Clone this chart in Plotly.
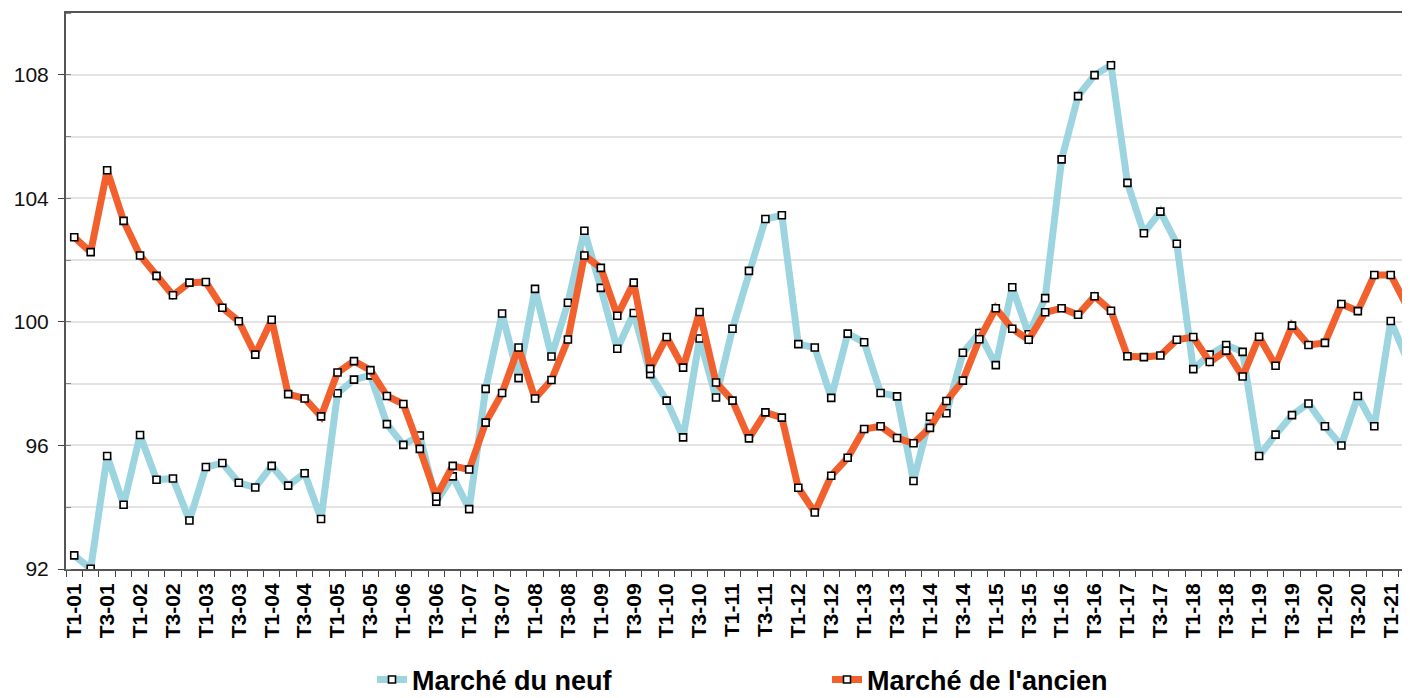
import plotly.graph_objects as go

# Quarterly periods T1-01 ... T2-21
quarters = [f"T{q}-{y:02d}" for y in range(1, 22) for q in range(1, 5)][:82]

tick_labels = ["T1-01", "T3-01", "T1-02", "T3-02", "T1-03", "T3-03", "T1-04", "T3-04",
               "T1-05", "T3-05", "T1-06", "T3-06", "T1-07", "T3-07", "T1-08", "T3-08",
               "T1-09", "T3-09", "T1-10", "T3-10", "T1-11", "T3-11", "T1-12", "T3-12",
               "T1-13", "T3-13", "T1-14", "T3-14", "T1-15", "T3-15", "T1-16", "T3-16",
               "T1-17", "T3-17", "T1-18", "T3-18", "T1-19", "T3-19", "T1-20", "T3-20",
               "T1-21"]

marche_neuf = [92.44, 92.01, 95.66, 94.08, 96.34, 94.89, 94.93, 93.57, 95.30, 95.43,
               94.79, 94.64, 95.34, 94.70, 95.10, 93.62, 97.69, 98.13, 98.27, 96.69,
               96.02, 96.32, 94.18, 95.00, 93.94, 97.83, 100.27, 98.18, 101.07, 98.88,
               100.62, 102.95, 101.10, 99.13, 100.29, 98.31, 97.45, 96.26, 99.46, 97.55,
               99.78, 101.65, 103.33, 103.45, 99.28, 99.17, 97.54, 99.62, 99.34, 97.70,
               97.59, 94.85, 96.93, 97.04, 99.00, 99.64, 98.60, 101.12, 99.60, 100.77,
               105.26, 107.31, 107.99, 108.31, 104.50, 102.87, 103.57, 102.53, 98.47, 98.94,
               99.25, 99.03, 95.66, 96.35, 96.98, 97.36, 96.62, 96.00, 97.60, 96.62,
               100.03, 98.77]

marche_ancien = [102.74, 102.26, 104.91, 103.27, 102.15, 101.49, 100.86, 101.27, 101.29, 100.46,
                 100.02, 98.94, 100.07, 97.66, 97.52, 96.94, 98.36, 98.73, 98.44, 97.60,
                 97.34, 95.89, 94.34, 95.34, 95.22, 96.74, 97.70, 99.17, 97.52, 98.12,
                 99.43, 102.15, 101.75, 100.20, 101.27, 98.48, 99.51, 98.52, 100.32, 98.04,
                 97.45, 96.23, 97.07, 96.90, 94.63, 93.83, 95.02, 95.60, 96.53, 96.62,
                 96.24, 96.07, 96.57, 97.44, 98.10, 99.44, 100.44, 99.78, 99.42, 100.31,
                 100.44, 100.23, 100.83, 100.36, 98.89, 98.86, 98.91, 99.42, 99.51, 98.70,
                 99.07, 98.23, 99.52, 98.58, 99.88, 99.25, 99.32, 100.58, 100.35, 101.52,
                 101.52, 100.49]

x_idx = list(range(len(quarters)))
tick_pos = [quarters.index(t) for t in tick_labels]

FONT = "Liberation Sans, Arial, sans-serif"
BLUE = "#9cd5df"
ORANGE = "#f2612d"

# page body has an 8px default margin: figure sized so it ends at the window edge
W, H = 1402, 690

marker = dict(symbol="square", size=7, color="white", line=dict(color="black", width=1.6))

fig = go.Figure()
fig.add_trace(go.Scatter(x=x_idx, y=marche_neuf, name="Marché du neuf", mode="lines+markers",
                         line=dict(color=BLUE, width=7), marker=marker,
                         text=quarters, hovertemplate="%{text}: %{y}<extra></extra>"))
fig.add_trace(go.Scatter(x=x_idx, y=marche_ancien, name="Marché de l'ancien", mode="lines+markers",
                         line=dict(color=ORANGE, width=7), marker=marker,
                         text=quarters, hovertemplate="%{text}: %{y}<extra></extra>"))

fig.update_layout(
    width=W, height=H,
    margin=dict(l=58, r=0, t=5, b=129, autoexpand=False),
    plot_bgcolor="white", paper_bgcolor="white",
    font=dict(family=FONT, color="#111"),
    showlegend=True,
    legend=dict(orientation="h", xref="container", yref="container",
                x=364 / W, xanchor="left", y=1 - 672 / H, yanchor="middle",
                font=dict(family=FONT, size=27, color="#000", weight="bold"),
                entrywidth=410, entrywidthmode="pixels", traceorder="normal"),
    xaxis=dict(range=[-0.5, 81.17], tickmode="array", tickvals=tick_pos, ticktext=tick_labels,
               tickangle=-90, ticks="", showgrid=False, zeroline=False, automargin=False,
               showline=True, linecolor="#555", linewidth=2, mirror=True,
               tickfont=dict(family=FONT, size=21, color="#000", weight="bold"),
               ticklabelstandoff=4,
               minor=dict(ticks="outside", ticklen=6, tickwidth=1, tickcolor="#444",
                          tick0=-0.5, dtick=1, showgrid=False)),
    yaxis=dict(range=[92, 110], tick0=92, dtick=4, ticks="outside", ticklen=6, tickwidth=1,
               tickcolor="#444", showgrid=True, gridcolor="#e3e3e3", gridwidth=1.5,
               zeroline=False, showline=True, linecolor="#555", linewidth=2, automargin=False,
               tickfont=dict(family=FONT, size=21, color="#111"),
               ticklabelstandoff=5,
               minor=dict(dtick=2, tick0=92, ticks="inside", ticklen=5, tickcolor="#888",
                          showgrid=True, gridcolor="#e3e3e3", gridwidth=1.5)),
)

fig.write_html("out.html")
